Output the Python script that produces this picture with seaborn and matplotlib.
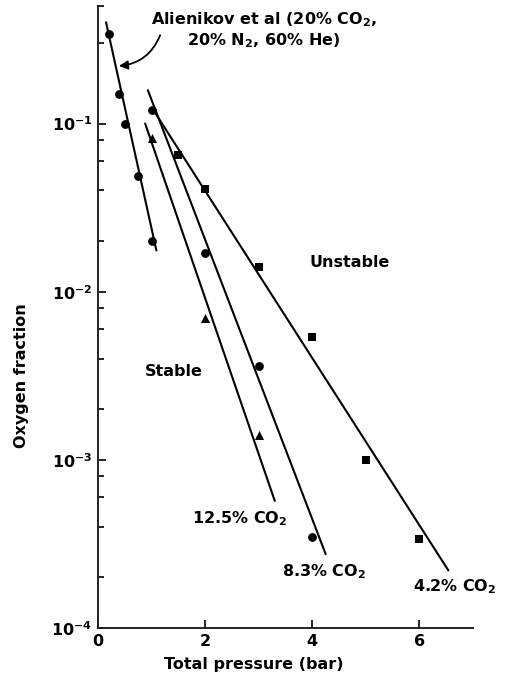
import matplotlib
matplotlib.use("Agg")
import matplotlib.pyplot as plt
import matplotlib.ticker as mticker
import seaborn as sns
import pandas as pd

# ---- data ----
alien_p = [0.2, 0.4, 0.5, 0.75, 1.0]
alien_o2 = [0.34, 0.15, 0.10, 0.049, 0.020]

co2_83_p = [1.0, 2.0, 3.0, 4.0]
co2_83_o2 = [0.12, 0.017, 0.0036, 0.00035]

co2_125_p = [1.0, 2.0, 3.0]
co2_125_o2 = [0.082, 0.0070, 0.0014]

co2_42_p = [1.5, 2.0, 3.0, 4.0, 5.0, 6.0]
co2_42_o2 = [0.065, 0.041, 0.014, 0.0054, 0.0010, 0.00034]

# hand-drawn fit lines (end points)
alien_fit_p = [0.15, 1.09]
alien_fit_o2 = [0.40, 0.0176]
co2_83_fit_p = [0.93, 4.25]
co2_83_fit_o2 = [0.158, 0.000275]
co2_125_fit_p = [0.88, 3.30]
co2_125_fit_o2 = [0.10, 0.00057]
co2_42_fit_p = [1.05, 6.54]
co2_42_fit_o2 = [0.118, 0.00022]

x_ticks = [0, 2, 4, 6]
y_major = [1e-4, 1e-3, 1e-2, 1e-1]
y_minor = [2e-4, 4e-4, 6e-4, 8e-4, 2e-3, 4e-3, 6e-3, 8e-3,
           2e-2, 4e-2, 6e-2, 8e-2, 0.3, 0.5]

sns.set_theme(style="ticks")
plt.rcParams['font.family'] = ['DejaVu Sans']
plt.rcParams['font.weight'] = 'bold'
plt.rcParams['mathtext.fontset'] = 'custom'
plt.rcParams['mathtext.rm'] = 'DejaVu Sans:bold'
plt.rcParams['mathtext.it'] = 'DejaVu Sans:bold:italic'
plt.rcParams['mathtext.bf'] = 'DejaVu Sans:bold'
plt.rcParams['mathtext.sf'] = 'DejaVu Sans:bold'

fig = plt.figure(figsize=(5.06, 6.75), dpi=100)
ax = fig.add_axes([98/506, 1 - 628/675, (473-98)/506, (628-6)/675])

ink = "black"

# fit lines
for px, py in [(alien_fit_p, alien_fit_o2), (co2_83_fit_p, co2_83_fit_o2),
               (co2_125_fit_p, co2_125_fit_o2), (co2_42_fit_p, co2_42_fit_o2)]:
    sns.lineplot(x=px, y=py, ax=ax, color=ink, lw=1.5, estimator=None, sort=False)

# markers
circ = pd.DataFrame({"p": alien_p + co2_83_p, "o2": alien_o2 + co2_83_o2})
sns.scatterplot(data=circ, x="p", y="o2", ax=ax, marker="o", s=40,
                color=ink, edgecolor=ink, linewidth=0, zorder=5)
sns.scatterplot(x=co2_125_p, y=co2_125_o2, ax=ax, marker="^", s=42,
                color=ink, edgecolor=ink, linewidth=0, zorder=5)
sns.scatterplot(x=co2_42_p, y=co2_42_o2, ax=ax, marker="s", s=28,
                color=ink, edgecolor=ink, linewidth=0, zorder=5)

ax.set_yscale("log")
ax.set_xlim(0, 7)
ax.set_ylim(1e-4, 0.5)

ax.xaxis.set_major_locator(mticker.FixedLocator(x_ticks))
ax.xaxis.set_minor_locator(mticker.NullLocator())
ax.yaxis.set_major_locator(mticker.FixedLocator(y_major))
ax.yaxis.set_minor_locator(mticker.FixedLocator(y_minor))
ax.yaxis.set_major_formatter(mticker.LogFormatterSciNotation())
ax.yaxis.set_minor_formatter(mticker.NullFormatter())

ax.tick_params(axis="both", which="major", direction="in", length=6,
               width=1.2, labelsize=11.5, colors=ink, pad=4)
ax.tick_params(axis="y", which="minor", direction="in", length=4,
               width=1.2, colors=ink)

for side in ["top", "right"]:
    ax.spines[side].set_visible(False)
for side in ["left", "bottom"]:
    ax.spines[side].set_linewidth(1.4)
    ax.spines[side].set_color("#222222")

ax.set_xlabel("Total pressure (bar)", fontsize=11.5, color=ink, fontweight="bold")
ax.set_ylabel("Oxygen fraction", fontsize=11.5, color=ink, fontweight="bold")
ax.xaxis.set_label_coords(0.416, -0.046)
ax.yaxis.set_label_coords(-0.183, 0.405)

fs = 11.5
kw = dict(fontsize=fs, color=ink, fontweight="bold")
ax.text(4.7, 0.0149, "Unstable", ha="center", va="center", **kw)
ax.text(1.42, 0.00336, "Stable", ha="center", va="center", **kw)
ax.text(1.75, 0.000445, "12.5% CO$_2$", ha="left", va="center", **kw)
ax.text(3.43, 0.000216, "8.3% CO$_2$", ha="left", va="center", **kw)
ax.text(5.88, 0.000176, "4.2% CO$_2$", ha="left", va="center", **kw)

ax.text(3.10, 0.36, "Alienikov et al (20% CO$_2$,\n20% N$_2$, 60% He)",
        ha="center", va="center", multialignment="center", **kw)
ax.annotate("", xy=(0.39, 0.22), xytext=(1.16, 0.335),
            annotation_clip=False,
            arrowprops=dict(arrowstyle="-|>", color=ink, lw=1.3,
                            mutation_scale=13, shrinkA=0, shrinkB=0,
                            connectionstyle="arc3,rad=-0.3"))

fig.savefig("out.png", dpi=100)
